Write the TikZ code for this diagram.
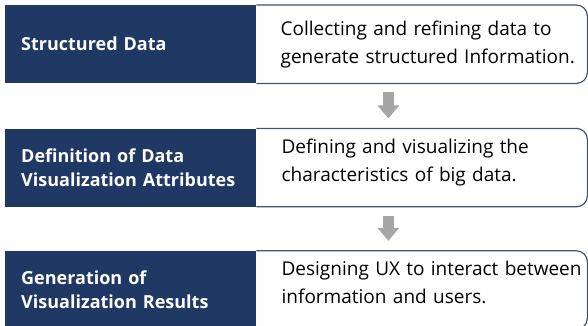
\documentclass[tikz,border=0pt]{standalone}
\usepackage{fontspec}
\setmainfont{Open Sans}
\usepackage{xcolor}
\definecolor{navyblue}{HTML}{203864}
\definecolor{framegray}{HTML}{44546A}
\definecolor{arrowgray}{HTML}{A6A6A6}
\usetikzlibrary{positioning,arrows.meta}

\begin{document}
\begin{tikzpicture}[x=1pt, y=1pt,
		title/.style={fill=navyblue, text=white, font=\fontsize{18}{24}\selectfont\bfseries,
			minimum width=251pt, minimum height=78pt, text width=219pt, align=left, inner sep=0pt},
		desc/.style={font=\fontsize{19}{28}\selectfont, text width=306pt, align=left, inner sep=0pt},
		frame/.style={draw=framegray, line width=1.2pt, rounded corners=11pt},
		flow/.style={draw=arrowgray, line width=11pt, -{Triangle[length=13pt,width=21pt]}}]
	\useasboundingbox (0,0) rectangle (588,-325);
	\clip (0,0) rectangle (588,-325);
	% rows
	\node[title, anchor=north west] (title1) at (5,-5) {Structured Data};
	\node[desc, right=24pt of title1] (desc1) {Collecting and refining data to\\generate structured Information.};
	\draw[frame] (title1.north east) -| ([xshift=331pt]title1.south east) -- (title1.south east);
	
	\node[title, below=45pt of title1] (title2) {Definition of Data\\Visualization Attributes};
	\node[desc, right=25pt of title2, yshift=5pt] (desc2) {Defining and visualizing the\\characteristics of big data.};
	\draw[frame] (title2.north east) -| ([xshift=331pt]title2.south east) -- (title2.south east);
	
	\node[title, below=44pt of title2] (title3) {Generation of\\Visualization Results};
	\node[desc, right=25pt of title3, yshift=8pt] (desc3) {Designing UX to interact between\\information and users.};
	\draw[frame] (title3.north east) -| ([xshift=331pt]title3.south east) -- (title3.south east);
	% arrows
	\draw[flow] ([xshift=132pt,yshift=-9pt]title1.south east) -- ([xshift=132pt,yshift=10pt]title2.north east);
	\draw[flow] ([xshift=132pt,yshift=-9pt]title2.south east) -- ([xshift=132pt,yshift=10pt]title3.north east);
\end{tikzpicture}
\end{document}
